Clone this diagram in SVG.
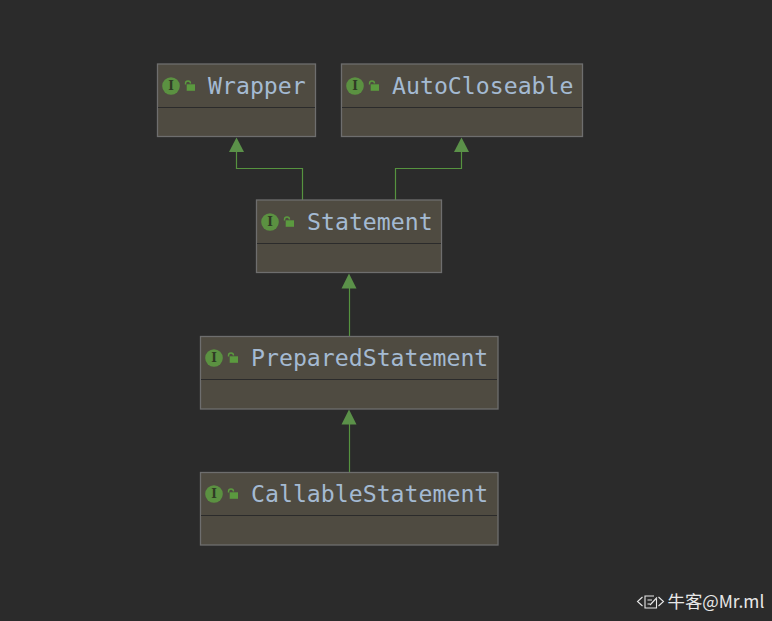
<svg xmlns="http://www.w3.org/2000/svg" width="772" height="621" viewBox="0 0 772 621">
<style>
.box{fill:#4f4b41;stroke:#6e6e6e;stroke-width:1.3}
.sep{stroke:#2b2b2b;stroke-width:1.2}
.name{font-family:"DejaVu Sans Mono","Liberation Mono",monospace;font-size:23.2px;fill:#a4bad2}
.badge{fill:#5b9141}
.i{font-family:"DejaVu Serif","Liberation Serif",serif;font-size:12px;font-weight:bold;fill:#2f3a25;text-anchor:middle}
.lock{fill:#5b9a3f}
.shackle{fill:none;stroke:#5b9a3f;stroke-width:1.4}
.edge{fill:none;stroke:#56933f;stroke-width:1.2}
.head{fill:#5b9149}
.wm{font-family:"Noto Sans CJK SC","Liberation Sans",sans-serif;font-size:17.4px;fill:#e8e8e8}
.wmi{fill:none;stroke:#e8e8e8;stroke-width:1.1}
</style>
<defs>
<g id="icons">
<circle cx="0" cy="0" r="8.8" class="badge"/>
<text x="0" y="4.3" class="i">I</text>
<rect x="15.700" y="-1.700" width="8.300" height="6.500" class="lock"/>
<path d="M14.500 -1.500V-2.500a2.500 2.500 0 0 1 5 0" class="shackle"/>
</g>
</defs>
<rect width="772" height="621" fill="#2b2b2b"/>
<g id="connectors">
<path class="edge" d="M302.500 200V168.500H236.500V150"/>
<path class="head" d="M236.500 137.500L244 152H229Z"/>
<path class="edge" d="M395.500 200V168.500H461.500V150"/>
<path class="head" d="M461.500 137.500L469 152H454Z"/>
<path class="edge" d="M349.500 336V286"/>
<path class="head" d="M349 273.500L356.500 288.500H341.500Z"/>
<path class="edge" d="M349.500 472V422"/>
<path class="head" d="M349 409.500L356.500 424.500H341.500Z"/>
</g>
<g id="wrapper">
<rect class="box" x="157.500" y="64" width="158" height="72.500"/>
<line class="sep" x1="158" y1="107.500" x2="315" y2="107.500"/>
<use href="#icons" x="171" y="86"/>
<text class="name" x="208" y="94">Wrapper</text>
</g>
<g id="autocloseable">
<rect class="box" x="341.500" y="64" width="241" height="72.500"/>
<line class="sep" x1="342" y1="107.500" x2="582" y2="107.500"/>
<use href="#icons" x="355" y="86"/>
<text class="name" x="392" y="94">AutoCloseable</text>
</g>
<g id="statement">
<rect class="box" x="256.500" y="200" width="185" height="72.500"/>
<line class="sep" x1="257" y1="243.500" x2="441" y2="243.500"/>
<use href="#icons" x="270" y="222"/>
<text class="name" x="307" y="230">Statement</text>
</g>
<g id="preparedstatement">
<rect class="box" x="200.500" y="336.500" width="297.500" height="72.500"/>
<line class="sep" x1="201" y1="379.500" x2="497" y2="379.500"/>
<use href="#icons" x="214" y="358"/>
<text class="name" x="251" y="366">PreparedStatement</text>
</g>
<g id="callablestatement">
<rect class="box" x="200.500" y="472.500" width="297.500" height="72.500"/>
<line class="sep" x1="201" y1="515.500" x2="497" y2="515.500"/>
<use href="#icons" x="214" y="494"/>
<text class="name" x="251" y="502">CallableStatement</text>
</g>
<g id="watermark">
<path class="wmi" d="M642.500 597L637.500 601.500L642.500 606M658.500 597L663.500 601.500L658.500 606"/>
<path class="wmi" d="M656.500 599V608H645V596H654"/>
<path class="wmi" d="M647.500 600H652M647.500 604H650M650 605L657 597.500"/>
<text class="wm" x="667.500" y="607.500">牛客@Mr.ml</text>
</g>
</svg>
